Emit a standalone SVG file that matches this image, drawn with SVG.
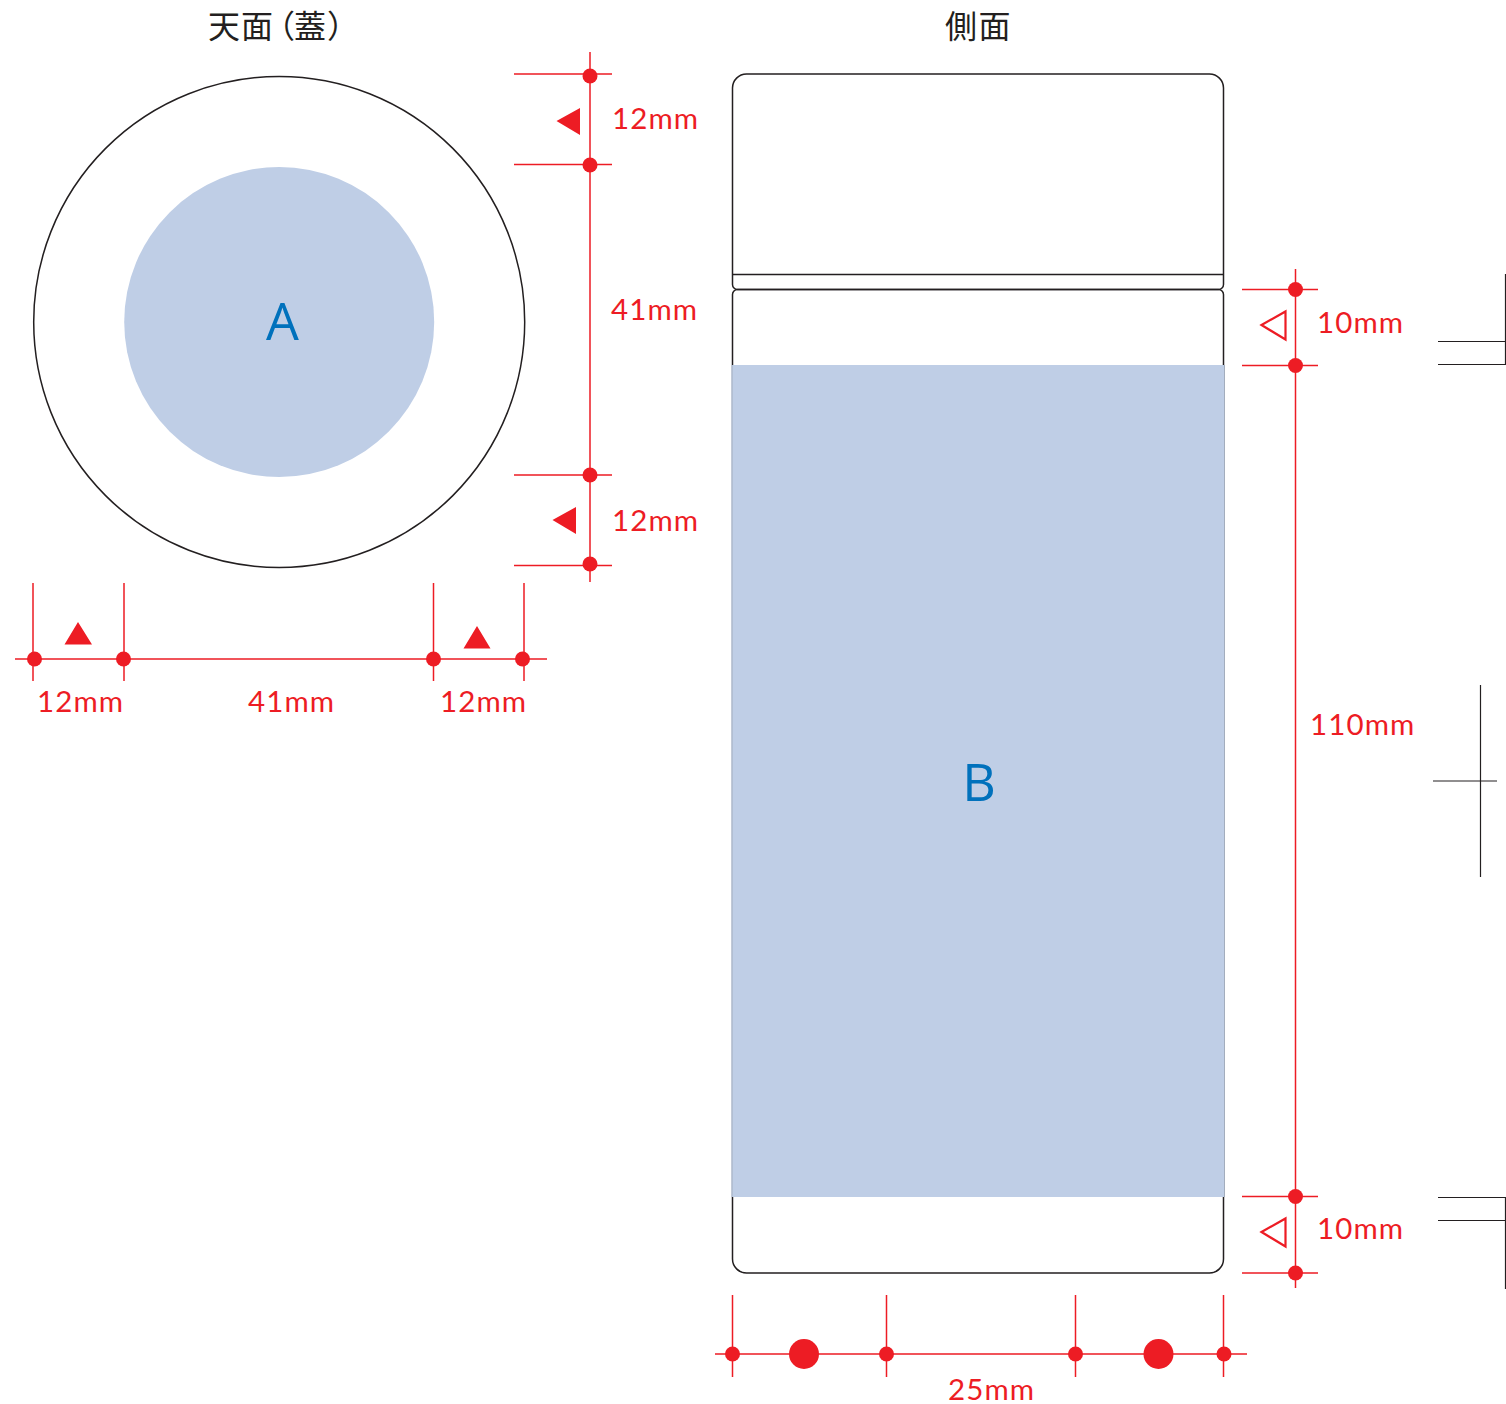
<svg xmlns="http://www.w3.org/2000/svg" width="1506" height="1404" viewBox="0 0 1506 1404">
<style>
.o{fill:none;stroke:#231f20;stroke-width:1.5}
.k{fill:none;stroke:#231f20;stroke-width:1.200}
.r{fill:none;stroke:#ed1c24;stroke-width:1.500}
.d{fill:#ed1c24}
.t{font-family:"Lato","Open Sans",sans-serif;font-size:29.500px;fill:#ed1c24;letter-spacing:1.100px}
.h{font-family:"Noto Sans CJK JP","Noto Sans",sans-serif;font-size:32px;fill:#231f20}
.l{font-family:"Open Sans","Noto Sans",sans-serif;font-size:52px;fill:#0071bc;text-anchor:middle}
</style>
<rect width="1506" height="1404" fill="#fff"/>
<g id="title-top"><text class="h" x="208 241 263 294 327" y="38">天面（蓋）</text></g>
<g id="title-side"><text class="h" x="945 978.500" y="38">側面</text></g>
<g id="top-view">
<circle class="o" cx="279.200" cy="322" r="245.500"/>
<circle cx="279.200" cy="322" r="155" fill="#bfcee6"/>
<text class="l" x="282.500" y="340">A</text>
</g>
<g id="side-view">
<path class="o" d="M732.500 88a14 14 0 0 1 14-14H1209.500a14 14 0 0 1 14 14V284.500a5 5 0 0 1-5 5H737.500a5 5 0 0 1-5-5ZM732.500 274.500H1223.500"/>
<path class="o" d="M732.500 365V294.500a5 5 0 0 1 5-5H1218.500a5 5 0 0 1 5 5V365M732.500 1197V1259a14 14 0 0 0 14 14H1209.500a14 14 0 0 0 14-14V1197"/>
<rect x="731.500" y="365" width="493" height="832" fill="#bfcee6"/>
<path d="M732 365V1197M1224.500 365V1197" fill="none" stroke="#a3adbd" stroke-width="1"/>
<text class="l" x="979" y="800.500">B</text>
</g>
<g id="connectors">
<path class="r" d="M590 52V582M514 74H612M514 164.500H612M514 475H612M514 565.500H612"/>
<path class="r" d="M15 659H547M33 583V681M124 583V681M433.500 583V681M524 583V681"/>
<path class="r" d="M1295.500 269V1288M1242 289.500H1318M1242 365.500H1318M1242 1196.500H1318M1242 1273H1318"/>
<path class="r" d="M715 1354H1247M732.500 1295V1377M886.500 1295V1377M1075.500 1295V1377M1223.500 1295V1377"/>
<path class="k" d="M1505.500 274V365M1438 341.500H1505.500M1438 364.500H1505.500M1480.500 685V877M1433 781H1497M1505.500 1197V1289M1438 1197.500H1505.500M1438 1220.500H1505.500"/>
</g>
<g id="markers">
<g class="d">
<circle cx="590" cy="76" r="7.500"/><circle cx="590" cy="165" r="7.500"/><circle cx="590" cy="475" r="7.500"/><circle cx="590" cy="564" r="7.500"/>
<circle cx="34.500" cy="659" r="7.500"/><circle cx="123.500" cy="659" r="7.500"/><circle cx="433.500" cy="659" r="7.500"/><circle cx="522.500" cy="659" r="7.500"/>
<circle cx="1295.500" cy="289.500" r="7.500"/><circle cx="1295.500" cy="365.500" r="7.500"/><circle cx="1295.500" cy="1196.500" r="7.500"/><circle cx="1295.500" cy="1273" r="7.500"/>
<circle cx="732.500" cy="1354" r="7.500"/><circle cx="886.500" cy="1354" r="7.500"/><circle cx="1075.500" cy="1354" r="7.500"/><circle cx="1224" cy="1354" r="7.500"/>
<circle cx="804" cy="1354" r="15"/><circle cx="1158.500" cy="1354" r="15"/>
<path d="M556.500 121L580 108V135ZM552.500 520L576 507V534ZM78 622L92 644.500H64.500ZM477 626L490.500 648.500H463.500Z"/>
</g>
<path d="M1261.500 325L1285.500 311.500V339.500ZM1261.500 1232L1285.500 1218.500V1246.500Z" fill="none" stroke="#ed1c24" stroke-width="2.200"/>
</g>
<g id="labels">
<text class="t" x="612" y="129">12mm</text>
<text class="t" x="611" y="320">41mm</text>
<text class="t" x="612" y="531">12mm</text>
<text class="t" x="37" y="712">12mm</text>
<text class="t" x="248" y="712">41mm</text>
<text class="t" x="440" y="712">12mm</text>
<text class="t" x="1317" y="333">10mm</text>
<text class="t" x="1310" y="735">110mm</text>
<text class="t" x="1317" y="1239">10mm</text>
<text class="t" x="948" y="1399.500">25mm</text>
</g>
</svg>
